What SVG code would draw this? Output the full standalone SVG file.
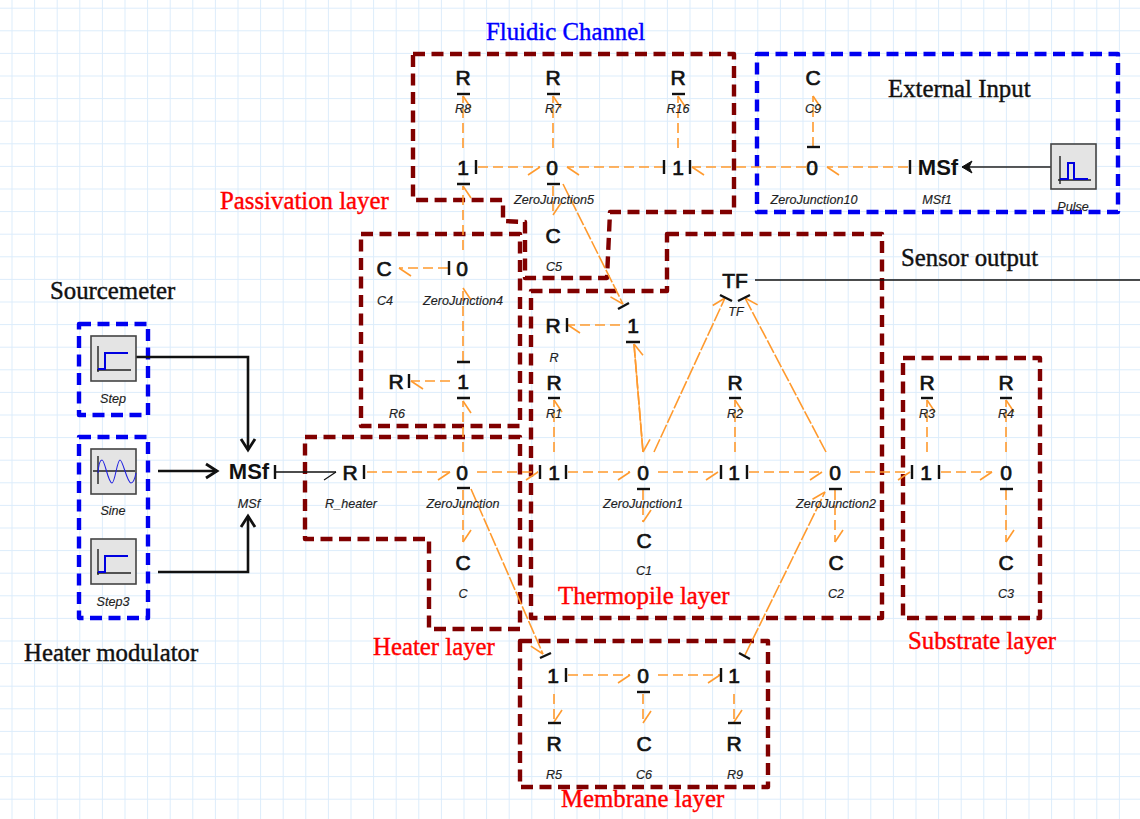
<svg xmlns="http://www.w3.org/2000/svg" width="1140" height="819" viewBox="0 0 1140 819">
<style>
.n{font:400 21px "Liberation Sans",Arial,sans-serif;fill:#111;stroke:#111;stroke-width:.7px;text-anchor:middle}
.m{font:700 22px "Liberation Sans",Arial,sans-serif;fill:#111;text-anchor:middle}
.j{font:400 21px "Liberation Sans",Arial,sans-serif;fill:#111;text-anchor:middle;stroke:#111;stroke-width:.7px}
.l{font:italic 400 12.6px "Liberation Sans",Arial,sans-serif;fill:#222;stroke:#222;stroke-width:.15px;text-anchor:middle}
.h{font:400 24.8px "Liberation Serif","Times New Roman",serif;stroke-width:.4px}
.b{fill:#00f;stroke:#00f}.r{fill:#f00;stroke:#f00}.k{fill:#111;stroke:#111}
.t{stroke:#111;stroke-width:2.4;fill:none}
.d{fill:none;stroke-width:4.4;stroke-dasharray:12 6.5;stroke-linejoin:round}
.dr{stroke:#800000}.db{stroke:#0000f0}
.c line{stroke:#ff9a2e;stroke-width:1.6;stroke-dasharray:10 5;fill:none}
.c line.s{stroke-dasharray:14 2}
.barb{stroke:#ff9a2e;stroke-width:1.6;fill:none}
.bk{stroke:#111;stroke-width:2.6;fill:none}
.blk{fill:#e4e4e4;stroke:#444;stroke-width:1.6}
.ax{stroke:#222;stroke-width:1.4;fill:none}
.sg{stroke:#0000e0;stroke-width:2;fill:none}
.sn{stroke:#2222e0;stroke-width:1.1;fill:none}
</style>
<defs>
<pattern id="grid" x="11.5" y="7.7" width="22.6" height="22.6" patternUnits="userSpaceOnUse">
<path d="M0 0V22.6M0 0H22.6" fill="none" stroke="#dcecfb" stroke-width="2"/>
</pattern>
<marker id="a" markerUnits="userSpaceOnUse" markerWidth="30" markerHeight="30" refX="15" refY="15" orient="auto" overflow="visible"><path class="barb" d="M15 15L3 23"/></marker>
<marker id="e" markerUnits="userSpaceOnUse" markerWidth="30" markerHeight="30" refX="15" refY="15" orient="auto" overflow="visible"><path class="barb" d="M15 15L3 7"/></marker>
<marker id="ka" markerUnits="userSpaceOnUse" markerWidth="30" markerHeight="30" refX="15" refY="15" orient="auto" overflow="visible"><path d="M15 15L3 23" fill="none" stroke="#111" stroke-width="1.2"/></marker>
<marker id="ah" markerUnits="userSpaceOnUse" markerWidth="30" markerHeight="30" refX="15" refY="15" orient="auto" overflow="visible"><path d="M4 8L15 15L4 22" fill="none" stroke="#111" stroke-width="2.8"/></marker>
<marker id="af" markerUnits="userSpaceOnUse" markerWidth="30" markerHeight="30" refX="15" refY="15" orient="auto" overflow="visible"><path d="M5 9L15 15L5 21L8 15Z" fill="#111" stroke="#111"/></marker>
</defs>
<rect width="1140" height="819" fill="#fff"/>
<rect width="1140" height="819" fill="url(#grid)"/>

<g id="regions">
<path id="fluidic-box" class="d dr" d="M413 54H734V212H610L607 278H525V222L503 221V200H413Z"/>
<path id="passivation-box" class="d dr" d="M361 234H520V426H361Z"/>
<path id="thermopile-box" class="d dr" d="M667 234H882V618H531V291H667Z"/>
<path id="heater-box" class="d dr" d="M305 437H520V629H429V539H305Z"/>
<path id="membrane-box" class="d dr" d="M520 641H768V787H520Z"/>
<path id="substrate-box" class="d dr" d="M903 358H1040V618H903Z"/>
<path id="external-box" class="d db" d="M757 54H1118V212H757Z"/>
<path id="step-box" class="d db" d="M79 324H148V415H79Z"/>
<path id="modulator-box" class="d db" d="M79 437H148V618H79Z"/>
</g>

<g id="connectors" class="c">
<line x1="463" y1="148" x2="463" y2="96" marker-end="url(#a)"/>
<line x1="553" y1="148" x2="553" y2="96" marker-end="url(#a)"/>
<line x1="678" y1="148" x2="678" y2="96" marker-end="url(#a)"/>
<line x1="478" y1="167" x2="540" y2="167" marker-end="url(#a)"/>
<line x1="664" y1="167" x2="567" y2="167" marker-end="url(#e)"/>
<line x1="806" y1="167" x2="692" y2="167" marker-end="url(#e)"/>
<line x1="553" y1="186" x2="553" y2="215" marker-end="url(#e)"/>
<line class="s" x1="563" y1="184" x2="623" y2="304" marker-end="url(#a)"/>
<line x1="908" y1="167" x2="827" y2="167" marker-end="url(#e)"/>
<line x1="813" y1="147" x2="813" y2="96" marker-end="url(#a)"/>
<line x1="463" y1="250" x2="463" y2="186" marker-end="url(#a)"/>
<line x1="448" y1="268" x2="399" y2="268" marker-end="url(#e)"/>
<line x1="463" y1="361" x2="463" y2="288" marker-end="url(#a)"/>
<line x1="450" y1="381" x2="411" y2="381" marker-end="url(#e)"/>
<line x1="463" y1="452" x2="463" y2="401" marker-end="url(#a)"/>
<line x1="620" y1="325" x2="568" y2="325" marker-end="url(#e)"/>
<line class="s" x1="643" y1="452" x2="634" y2="344" marker-end="url(#a)"/>
<line class="s" x1="634" y1="344" x2="643" y2="452" marker-end="url(#e)"/>
<line class="s" x1="654" y1="452" x2="725" y2="298" marker-end="url(#e)"/>
<line class="s" x1="826" y1="452" x2="745" y2="298" marker-end="url(#a)"/>
<line x1="554" y1="452" x2="554" y2="400" marker-end="url(#a)"/>
<line x1="735" y1="452" x2="735" y2="400" marker-end="url(#a)"/>
<line x1="367" y1="472" x2="450" y2="472" marker-end="url(#a)"/>
<line x1="477" y1="472" x2="538" y2="472" marker-end="url(#a)"/>
<line x1="568" y1="472" x2="630" y2="472" marker-end="url(#a)"/>
<line x1="658" y1="472" x2="718" y2="472" marker-end="url(#a)"/>
<line x1="749" y1="472" x2="822" y2="472" marker-end="url(#a)"/>
<line x1="463" y1="490" x2="463" y2="542" marker-end="url(#e)"/>
<line x1="643" y1="490" x2="643" y2="522" marker-end="url(#e)"/>
<line x1="835" y1="490" x2="835" y2="542" marker-end="url(#e)"/>
<line x1="850" y1="472" x2="910" y2="472" marker-end="url(#a)"/>
<line x1="941" y1="472" x2="992" y2="472" marker-end="url(#a)"/>
<line x1="927" y1="452" x2="927" y2="400" marker-end="url(#a)"/>
<line x1="1006" y1="452" x2="1006" y2="400" marker-end="url(#a)"/>
<line x1="1006" y1="490" x2="1006" y2="542" marker-end="url(#e)"/>
<line class="s" x1="471" y1="489" x2="543" y2="654" marker-end="url(#a)"/>
<line class="s" x1="745" y1="655" x2="825" y2="492" marker-end="url(#e)"/>
<line x1="568" y1="675" x2="630" y2="675" marker-end="url(#a)"/>
<line x1="658" y1="675" x2="720" y2="675" marker-end="url(#a)"/>
<line x1="554" y1="694" x2="554" y2="722" marker-end="url(#e)"/>
<line x1="643" y1="694" x2="643" y2="723" marker-end="url(#e)"/>
<line x1="734" y1="694" x2="734" y2="722" marker-end="url(#e)"/>
<path class="bk" d="M136 357H248V450" marker-end="url(#ah)"/>
<path class="bk" d="M158 471H217" marker-end="url(#ah)"/>
<path class="bk" d="M158 572H248V516" marker-end="url(#ah)"/>
<path d="M275 472H336" fill="none" stroke="#111" stroke-width="1.4" marker-end="url(#ka)"/>
<path d="M1051 167H962" fill="none" stroke="#222" stroke-width="1.6" marker-end="url(#af)"/>
<path d="M755 280H1140" fill="none" stroke="#111" stroke-width="1.4"/>
</g>

<g id="src-step"><rect class="blk" x="91" y="336" width="45" height="45"/><path class="ax" d="M98 346V372M97 370H131"/><path class="sg" d="M98 369H105V353H128"/><text class="l" x="113" y="403">Step</text></g>
<g id="src-sine"><rect class="blk" x="91" y="449" width="45" height="45"/><path class="ax" d="M98 456V484M93 471H135"/><path class="sn" d="M98 473Q99 460 102 460C105 460 108 483 112 483C115 483 117 460 120 460C123 460 127 483 131 483Q134 483 136 473"/><text class="l" x="113" y="515">Sine</text></g>
<g id="src-step3"><rect class="blk" x="91" y="539" width="45" height="45"/><path class="ax" d="M98 549V575M97 573H131"/><path class="sg" d="M98 572H105V556H128"/><text class="l" x="113" y="606">Step3</text></g>
<g id="src-pulse"><rect class="blk" x="1051" y="144" width="45" height="45"/><path class="ax" d="M1060 156V184M1058 180H1091"/><path class="sg" d="M1060 179H1068V163H1074V179H1088"/><text class="l" x="1073" y="211">Pulse</text></g>

<g id="MSf"><text class="m" x="249" y="479">MSf</text><path class="t" d="M275 465V479"/><text class="l" x="249" y="508">MSf</text></g>
<g id="R_heater"><text class="n" x="350" y="480">R</text><path class="t" d="M364 465V479"/><text class="l" x="351" y="508">R_heater</text></g>
<g id="ZeroJunction"><text class="j" x="462" y="480">0</text><path class="t" d="M457 488H470"/><text class="l" x="463" y="508">ZeroJunction</text></g>
<g id="C"><text class="n" x="463" y="570">C</text><text class="l" x="463" y="598">C</text></g>

<g id="J1a"><text class="j" x="554" y="480">1</text><path class="t" d="M540 465V479M566 465V479"/></g>
<g id="R1"><text class="n" x="554" y="390">R</text><path class="t" d="M548 398H560"/><text class="l" x="554" y="418">R1</text></g>
<g id="ZeroJunction1"><text class="j" x="643" y="480">0</text><path class="t" d="M637 489H650"/><text class="l" x="643" y="508">ZeroJunction1</text></g>
<g id="C1"><text class="n" x="644" y="548">C</text><text class="l" x="644" y="575">C1</text></g>
<g id="J1b"><text class="j" x="734" y="480">1</text><path class="t" d="M721 465V479M747 465V479"/></g>
<g id="R2"><text class="n" x="735" y="390">R</text><path class="t" d="M729 398H741"/><text class="l" x="735" y="418">R2</text></g>
<g id="ZeroJunction2"><text class="j" x="835" y="480">0</text><path class="t" d="M829 489H842"/><text class="l" x="836" y="508">ZeroJunction2</text></g>
<g id="C2"><text class="n" x="836" y="570">C</text><text class="l" x="836" y="598">C2</text></g>
<g id="TF"><text class="n" x="735" y="288">TF</text><path class="t" d="M720 295L732 301M738 301L750 295"/><text class="l" x="736" y="316">TF</text></g>
<g id="J1c"><text class="j" x="633" y="333">1</text><path class="t" d="M618 309L629 303M626 342H640"/></g>
<g id="R"><text class="n" x="553" y="333">R</text><path class="t" d="M567 318V332"/><text class="l" x="554" y="362">R</text></g>

<g id="R8"><text class="n" x="463" y="85">R</text><path class="t" d="M457 94H470"/><text class="l" x="463" y="113">R8</text></g>
<g id="R7"><text class="n" x="553" y="85">R</text><path class="t" d="M547 94H560"/><text class="l" x="553" y="113">R7</text></g>
<g id="R16"><text class="n" x="678" y="85">R</text><path class="t" d="M672 94H685"/><text class="l" x="678" y="113">R16</text></g>
<g id="J1d"><text class="j" x="463" y="175">1</text><path class="t" d="M476 160V174M457 184H470"/></g>
<g id="ZeroJunction5"><text class="j" x="552" y="175">0</text><path class="t" d="M547 184H560"/><text class="l" x="554" y="204">ZeroJunction5</text></g>
<g id="J1e"><text class="j" x="678" y="175">1</text><path class="t" d="M664 160V174M690 160V174"/></g>
<g id="C5"><text class="n" x="553" y="243">C</text><text class="l" x="554" y="271">C5</text></g>

<g id="C9"><text class="n" x="813" y="85">C</text><text class="l" x="813" y="113">C9</text></g>
<g id="ZeroJunction10"><text class="j" x="812" y="175">0</text><path class="t" d="M807 147H820"/><text class="l" x="814" y="204">ZeroJunction10</text></g>
<g id="MSf1"><text class="m" x="938" y="175">MSf</text><path class="t" d="M910 160V174"/><text class="l" x="937" y="204">MSf1</text></g>

<g id="C4"><text class="n" x="384" y="276">C</text><text class="l" x="385" y="305">C4</text></g>
<g id="ZeroJunction4"><text class="j" x="462" y="276">0</text><path class="t" d="M449 261V275"/><text class="l" x="463" y="305">ZeroJunction4</text></g>
<g id="R6"><text class="n" x="396" y="389">R</text><path class="t" d="M409 374V388"/><text class="l" x="397" y="418">R6</text></g>
<g id="J1f"><text class="j" x="463" y="389">1</text><path class="t" d="M457 362H470M457 398H470"/></g>

<g id="J1g"><text class="j" x="926" y="480">1</text><path class="t" d="M912 465V479M939 465V479"/></g>
<g id="ZeroJunction3"><text class="j" x="1006" y="480">0</text><path class="t" d="M1000 489H1013"/></g>
<g id="R3"><text class="n" x="927" y="390">R</text><path class="t" d="M921 398H933"/><text class="l" x="927" y="418">R3</text></g>
<g id="R4"><text class="n" x="1006" y="390">R</text><path class="t" d="M1000 398H1012"/><text class="l" x="1006" y="418">R4</text></g>
<g id="C3"><text class="n" x="1006" y="570">C</text><text class="l" x="1006" y="598">C3</text></g>

<g id="J1h"><text class="j" x="553" y="683">1</text><path class="t" d="M540 658L551 653M566 668V682"/></g>
<g id="ZeroJunction6"><text class="j" x="643" y="683">0</text><path class="t" d="M637 692H650"/></g>
<g id="J1i"><text class="j" x="734" y="683">1</text><path class="t" d="M739 653L750 659M721 668V682"/></g>
<g id="R5"><text class="n" x="554" y="751">R</text><path class="t" d="M548 723H561"/><text class="l" x="554" y="779">R5</text></g>
<g id="C6"><text class="n" x="644" y="751">C</text><text class="l" x="644" y="779">C6</text></g>
<g id="R9"><text class="n" x="734" y="751">R</text><path class="t" d="M728 723H741"/><text class="l" x="735" y="779">R9</text></g>

<g id="titles">
<text class="h b" x="486" y="40">Fluidic Channel</text>
<text class="h k" x="888" y="97">External Input</text>
<text class="h k" x="901" y="266">Sensor output</text>
<text class="h r" x="220" y="209">Passivation layer</text>
<text class="h k" x="50" y="299">Sourcemeter</text>
<text class="h k" x="24" y="661">Heater modulator</text>
<text class="h r" x="558" y="604">Thermopile layer</text>
<text class="h r" x="373" y="655">Heater layer</text>
<text class="h r" x="908" y="649">Substrate layer</text>
<text class="h r" x="561" y="807">Membrane layer</text>
</g>
</svg>
